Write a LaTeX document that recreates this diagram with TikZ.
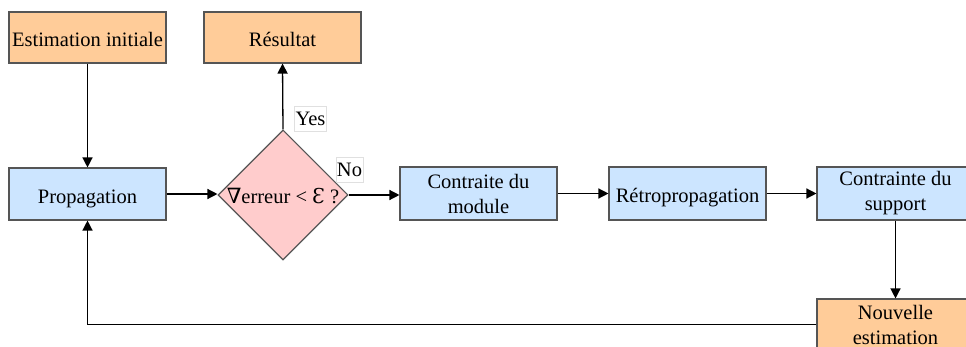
\documentclass[tikz,border=0pt]{standalone}
\usepackage{fontspec}
\setmainfont{Liberation Serif}
\newfontfamily\symfont{DejaVu Serif}
\usetikzlibrary{arrows.meta,shapes.geometric}
\definecolor{orangefill}{HTML}{FFCC99}
\definecolor{bluefill}{HTML}{CCE5FF}
\definecolor{pinkfill}{HTML}{FFCCCC}
\definecolor{edgegray}{HTML}{555555}
\tikzset{
  box/.style={draw=edgegray, line width=1.1pt, minimum width=157pt, minimum height=52pt, inner sep=1pt, align=center, font=\fontsize{20.5pt}{25pt}\selectfont},
  oneline/.style={text height=19pt, text depth=0pt},
  orangebox/.style={box, fill=orangefill},
  bluebox/.style={box, fill=bluefill},
  decision/.style={diamond, draw=edgegray, line width=1.1pt, fill=pinkfill, minimum width=130pt, minimum height=130pt, inner sep=0pt},
  lbl/.style={draw=black!12, fill=white, inner sep=1pt, font=\fontsize{20.5pt}{22pt}\selectfont},
  conn/.style={draw=black, line width=1.3pt, -{Triangle[length=10pt,width=10pt]}},
}
\begin{document}
\begin{tikzpicture}[x=1pt,y=-1pt]
\useasboundingbox (0,0) rectangle (966,347);
\clip (0,0) rectangle (966,347);
\node[orangebox, oneline, minimum height=51pt] (est) at (87.5,37.5) {Estimation initiale};
\node[orangebox, oneline, minimum height=51pt] (res) at (282.5,37.5) {Résultat};
\node[bluebox, oneline] (prop) at (87.5,194) {Propagation};
\node[decision] (dia) at (283,195) {};
\node[text height=17pt, text depth=0pt, inner sep=0pt] (diatext) at (283,195) {\fontsize{20.5pt}{22pt}\selectfont{\symfont\fontsize{21pt}{22pt}\selectfont ∇}erreur < {\symfont Ɛ} ?};
\node[bluebox, minimum height=53pt] (cmod) at (478.5,193.5) {Contraite du\\module};
\node[bluebox, oneline, minimum height=53pt] (retro) at (687.5,193.5) {Rétropropagation};
\node[bluebox, minimum height=53pt] (csup) at (895.5,193.5) {Contrainte du\\support};
\node[orangebox, minimum height=51pt] (nouv) at (895.5,324.5) {Nouvelle\\estimation};
\node[lbl, minimum width=31pt, minimum height=25pt] (yes) at (310.5,118.5) {Yes};
\node[lbl, minimum width=27pt, minimum height=25pt] (no) at (349.5,169.5) {No};
\draw[conn] (est) -- (prop);
\draw[conn] (prop.east) -- (prop.east -| dia.west);
\draw[conn] (dia.north) -- (res.south);
\draw[conn] (dia.east) -- (dia.east -| cmod.west);
\draw[conn] (cmod) -- (retro);
\draw[conn] (retro) -- (csup);
\draw[conn] (csup) -- (nouv);
\draw[conn] (nouv.west) -| (prop.south);
\end{tikzpicture}
\end{document}
